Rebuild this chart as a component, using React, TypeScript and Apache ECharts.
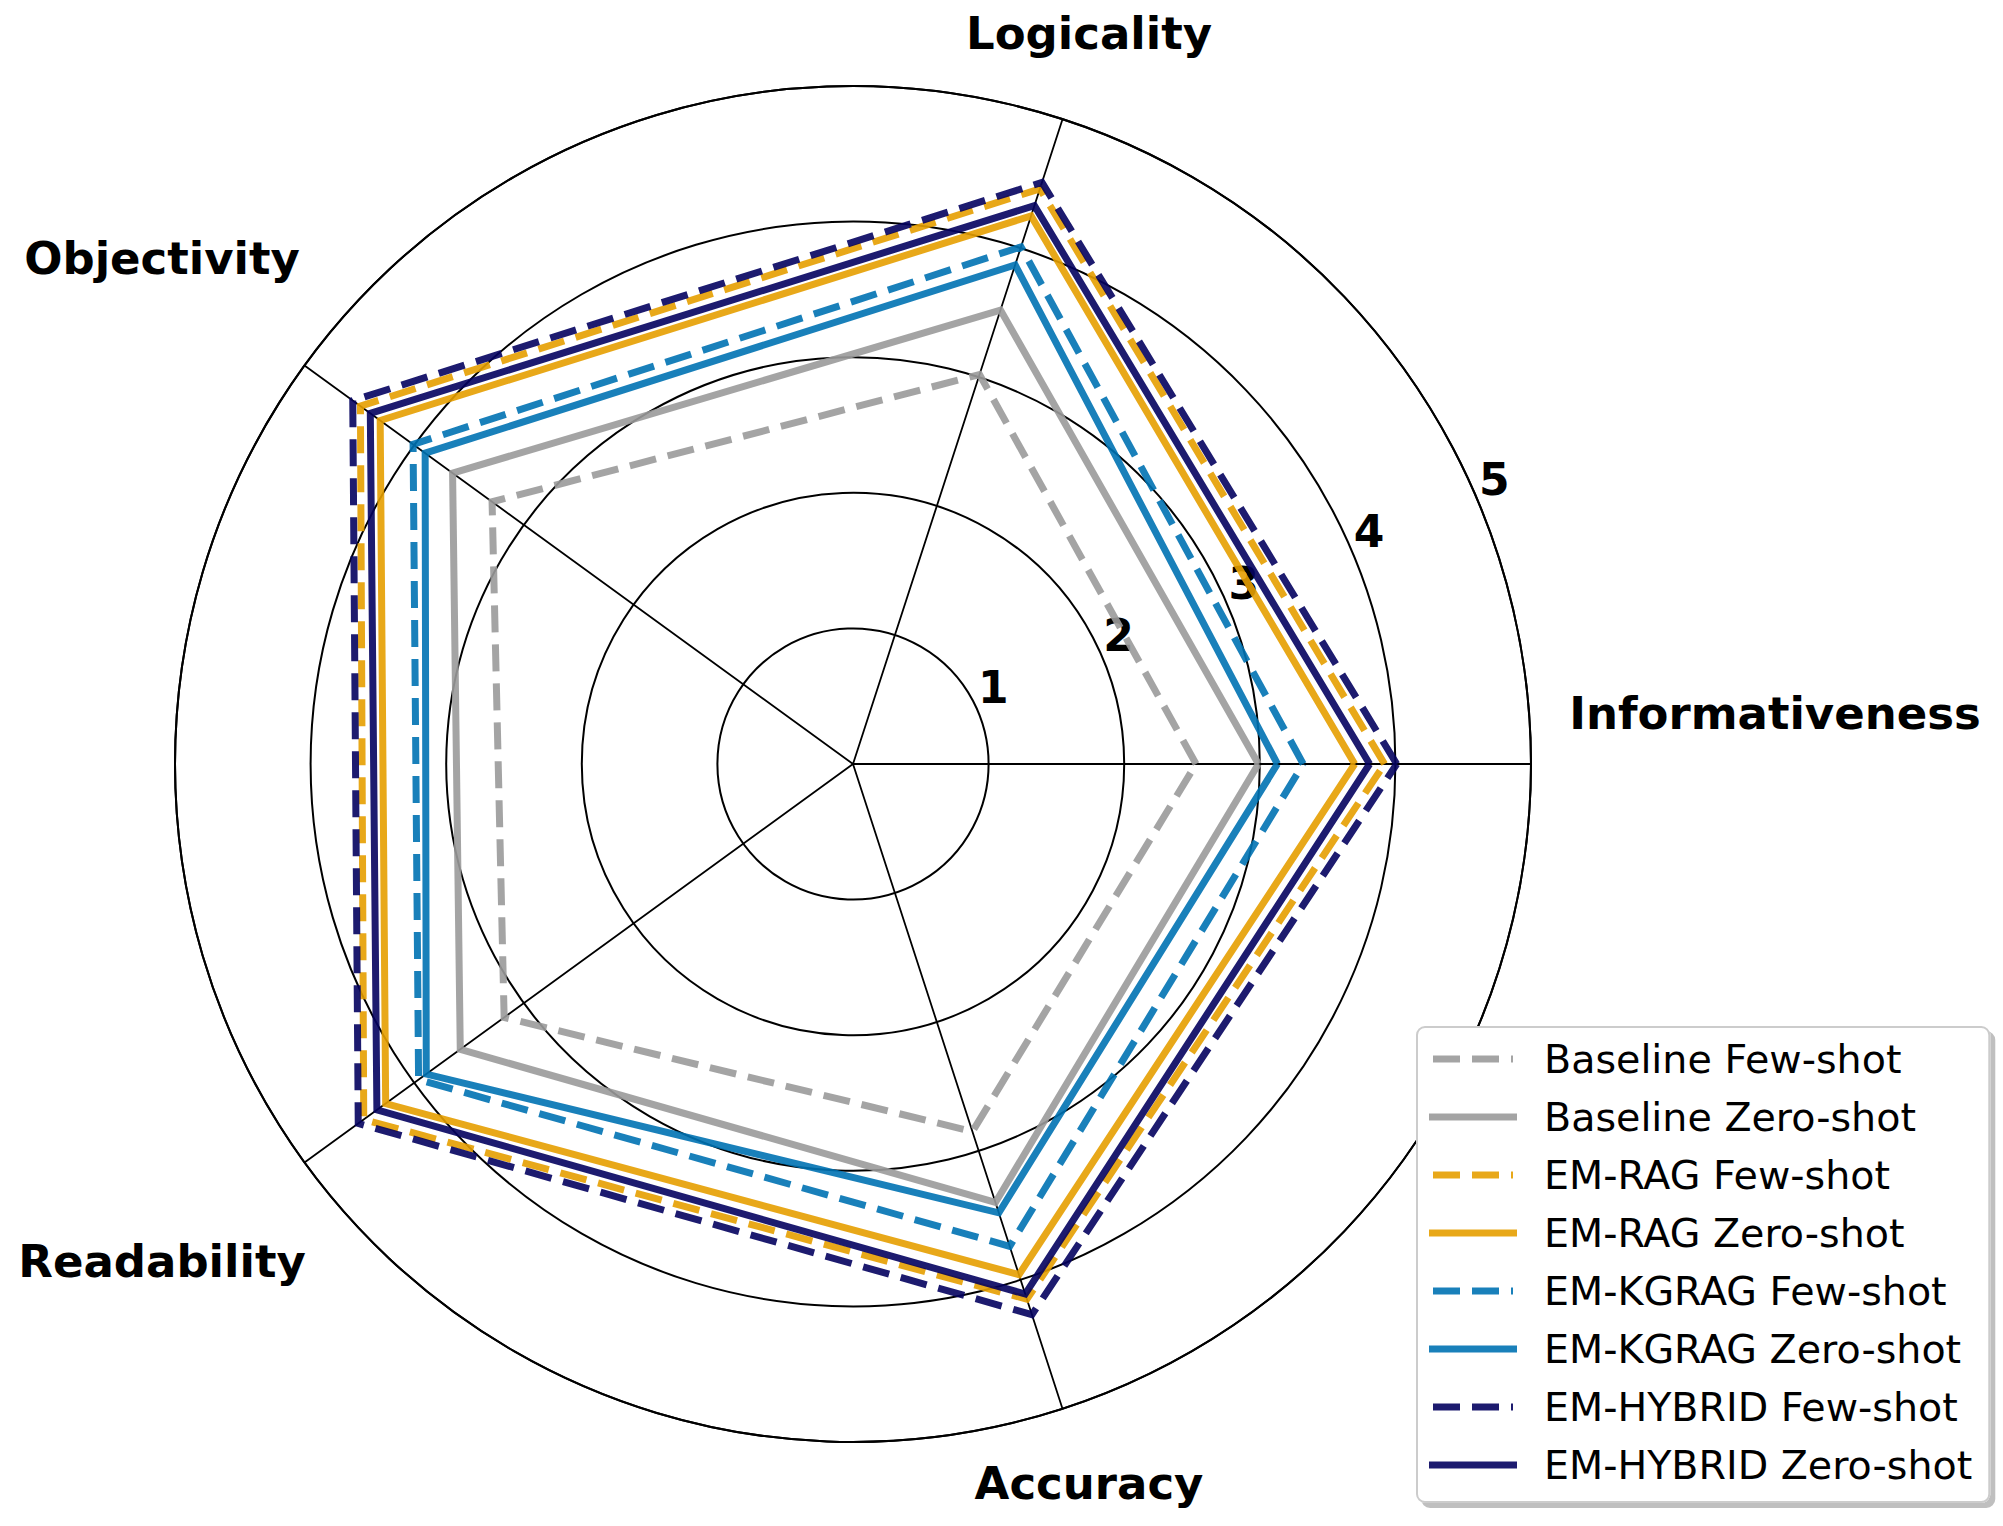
import React, { useEffect, useRef } from 'react';
import * as echarts from 'echarts';

// ---- data ----
const categories = ['Informativeness', 'Logicality', 'Objectivity', 'Readability', 'Accuracy'];

const baselineFewShot = [2.53, 3.02, 3.29, 3.18, 2.85];
const baselineZeroShot = [2.99, 3.52, 3.65, 3.58, 3.40];
const emRagFewShot = [3.92, 4.46, 4.49, 4.46, 4.15];
const emRagZeroShot = [3.70, 4.25, 4.31, 4.26, 3.96];
const emKgragFewShot = [3.32, 4.01, 4.01, 3.96, 3.74];
const emKgragZeroShot = [3.13, 3.87, 3.90, 3.89, 3.48];
const emHybridFewShot = [4.01, 4.51, 4.56, 4.51, 4.27];
const emHybridZeroShot = [3.81, 4.33, 4.40, 4.34, 4.11];

const seriesNames = [
  'Baseline Few-shot',
  'Baseline Zero-shot',
  'EM-RAG Few-shot',
  'EM-RAG Zero-shot',
  'EM-KGRAG Few-shot',
  'EM-KGRAG Zero-shot',
  'EM-HYBRID Few-shot',
  'EM-HYBRID Zero-shot',
];
const seriesValues = [
  baselineFewShot,
  baselineZeroShot,
  emRagFewShot,
  emRagZeroShot,
  emKgragFewShot,
  emKgragZeroShot,
  emHybridFewShot,
  emHybridZeroShot,
];
const seriesDashed = [true, false, true, false, true, false, true, false];

const tickValues = [1, 2, 3, 4, 5];
const tickLabels = ['1', '2', '3', '4', '5'];
const tickLabelAngle = 22.5;

// ---- styles ----
const seriesColors = [
  '#9A9A9A', '#9A9A9A',
  '#E69F00', '#E69F00',
  '#0072B2', '#0072B2',
  '#04025F', '#04025F',
];

const FONT = 'DejaVu Sans';
const CENTER = [853, 764];
const RADIUS = 678;

const SOLID_ICON = 'path://M0,0H88V7H0Z';
const DASH_ICON = 'path://M3,0H30V7H3Z M42,0H69V7H42Z M81,0H83V7H81Z';

const categoryLabelPos = [
  { x: 1775, y: 713 },
  { x: 1089, y: 33 },
  { x: 162, y: 258 },
  { x: 162, y: 1261 },
  { x: 1089, y: 1483 },
];

export default function App() {
  const ref = useRef<HTMLDivElement>(null);

  useEffect(() => {
    document.body.style.margin = '0';
    const chart = echarts.init(ref.current as HTMLDivElement, null, { renderer: 'svg' });

    const step = 360 / categories.length;
    const closed = (vals: number[]) => [
      ...vals.map((v, i) => [v, i * step]),
      [vals[0], 360],
    ];

    const lineSeries = seriesNames.map((name, i) => ({
      name,
      type: 'line',
      coordinateSystem: 'polar',
      data: closed(seriesValues[i]),
      symbol: 'none',
      smooth: false,
      z: 3,
      lineStyle: {
        color: seriesColors[i],
        width: 7,
        type: seriesDashed[i] ? [27, 12] : 'solid',
        cap: 'butt',
        join: 'miter',
        miterLimit: 10,
        opacity: 0.9,
      },
      itemStyle: { color: seriesColors[i], opacity: 0.9 },
      emphasis: { disabled: true },
    }));

    const tickSeries = {
      name: 'radial-ticks',
      type: 'scatter',
      coordinateSystem: 'polar',
      z: 1,
      symbol: 'circle',
      symbolSize: 1,
      itemStyle: { color: 'rgba(0,0,0,0)', opacity: 1 },
      data: tickValues.map((v) => [v, tickLabelAngle]),
      label: {
        show: true,
        position: 'inside',
        offset: [15, -25],
        formatter: (p: any) => tickLabels[p.dataIndex],
        color: '#000000',
        opacity: 1,
        fontFamily: FONT,
        fontWeight: 'bold',
        fontSize: 44,
        align: 'center',
        verticalAlign: 'middle',
      },
      emphasis: { disabled: true },
      silent: true,
    };

    const option: any = {
      animation: false,
      backgroundColor: '#ffffff',
      textStyle: { fontFamily: FONT },
      polar: { center: CENTER, radius: RADIUS },
      angleAxis: {
        type: 'value',
        min: 0,
        max: 360,
        interval: step,
        startAngle: 0,
        clockwise: false,
        axisLine: { show: true, lineStyle: { color: '#000', width: 2 } },
        axisTick: { show: false },
        axisLabel: { show: false },
        splitLine: { show: true, lineStyle: { color: '#000', width: 1.8 } },
        z: 0,
      },
      radiusAxis: {
        type: 'value',
        min: 0,
        max: 5,
        interval: 1,
        axisLine: { show: false },
        axisTick: { show: false },
        axisLabel: { show: false },
        splitLine: { show: true, lineStyle: { color: '#000', width: 2 } },
        z: 0,
      },
      legend: {
        orient: 'vertical',
        left: 1417,
        top: 1027,
        itemWidth: 88,
        itemHeight: 7,
        itemGap: 18,
        padding: [12, 17, 17, 12],
        backgroundColor: '#ffffff',
        borderColor: '#cccccc',
        borderWidth: 2,
        borderRadius: 8,
        shadowColor: 'rgba(0,0,0,0.25)',
        shadowBlur: 0,
        shadowOffsetX: 5,
        shadowOffsetY: 5,
        selectedMode: false,
        itemStyle: { borderWidth: 0 },
        textStyle: {
          fontFamily: FONT,
          fontSize: 39.6,
          color: '#000',
          padding: [0, 0, 0, 22],
        },
        data: seriesNames.map((name, i) => ({
          name,
          icon: seriesDashed[i] ? DASH_ICON : SOLID_ICON,
        })),
      },
      graphic: categories.map((c, i) => ({
        type: 'text',
        x: categoryLabelPos[i].x,
        y: categoryLabelPos[i].y,
        z: 10,
        silent: true,
        style: {
          text: c,
          fill: '#000',
          fontFamily: FONT,
          fontWeight: 'bold',
          fontSize: 45,
          align: 'center',
          verticalAlign: 'middle',
          textAlign: 'center',
          textVerticalAlign: 'middle',
        },
      })),
      series: [tickSeries, ...lineSeries],
    };

    chart.setOption(option);
    return () => chart.dispose();
  }, []);

  return (
    <div
      ref={ref}
      style={{ position: 'fixed', left: 0, top: 0, width: 2003, height: 1526 }}
    />
  );
}
